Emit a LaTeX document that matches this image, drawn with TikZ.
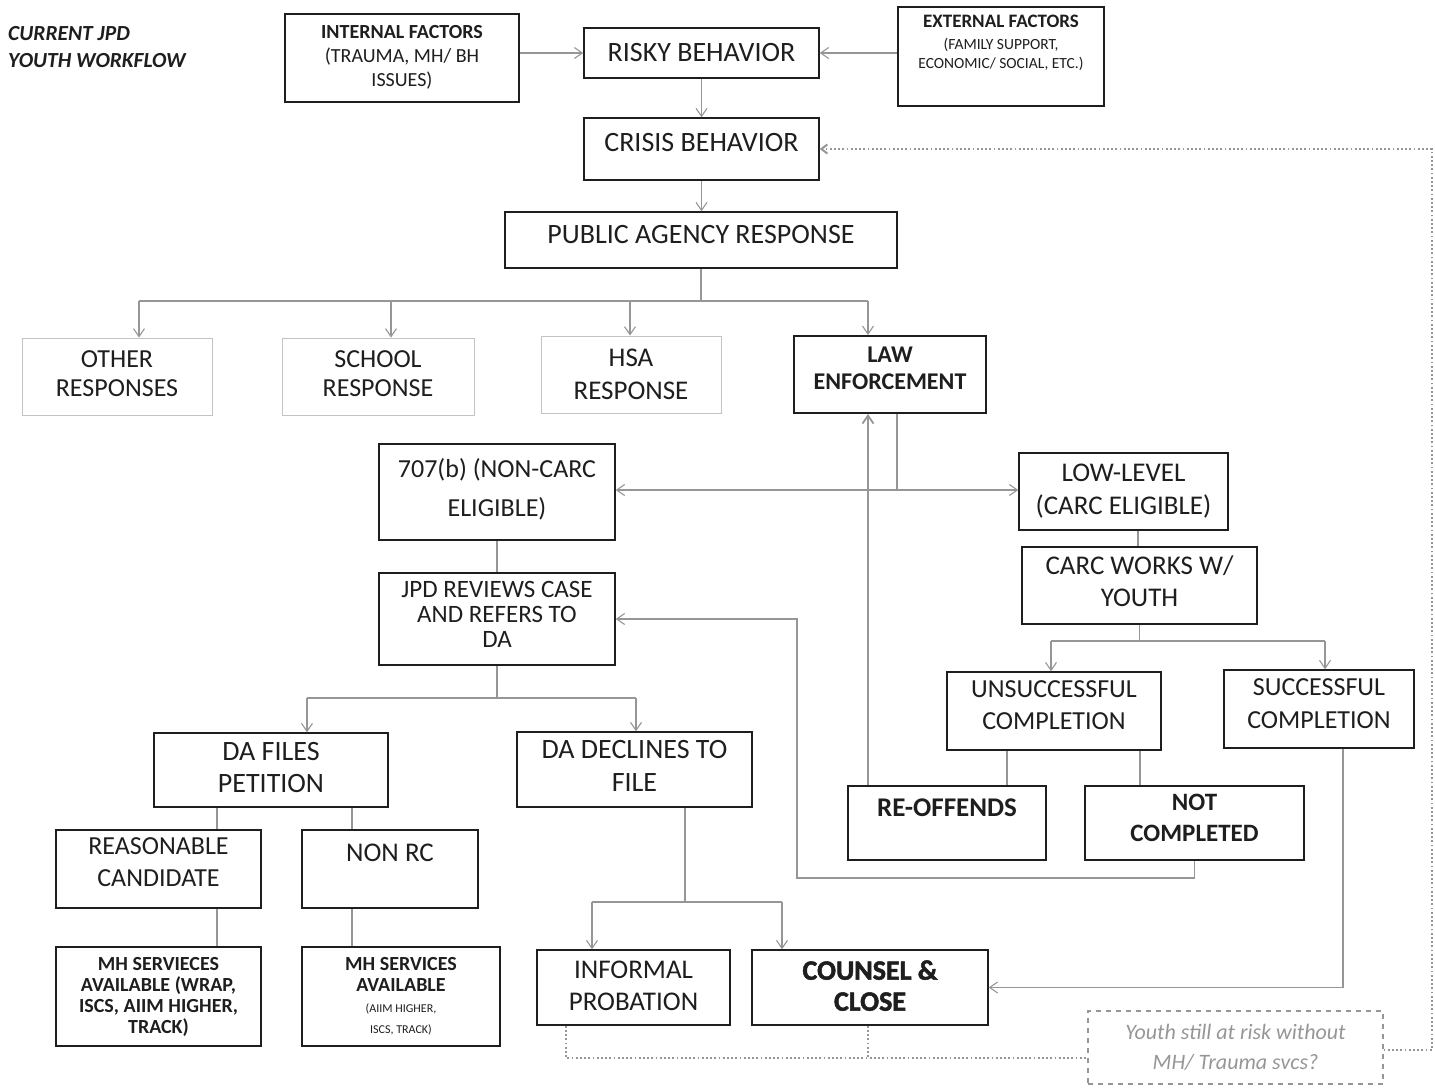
\documentclass[tikz,border=0pt]{standalone}
\usepackage{fontspec}
\setmainfont{Carlito}
\newfontfamily\heavyfont[FakeBold=1.8]{Carlito}
\usetikzlibrary{arrows.meta}
\definecolor{lg}{RGB}{150,150,150}
\definecolor{llg}{RGB}{195,195,195}
\definecolor{bd}{RGB}{30,30,30}
\newcommand{\fsz}[2]{\fontsize{#1}{#2}\selectfont}
\begin{document}
\begin{tikzpicture}[x=1pt,y=-1pt,
  box/.style={draw=bd, line width=1.4pt, rectangle, inner sep=2pt, align=center, text=bd, font=\fsz{26}{32}},
  lbox/.style={box, draw=llg, line width=0.9pt},
  conn/.style={draw=lg, line width=1.1pt},
  arr/.style={conn, -{Straight Barb[length=8pt,width=11pt]}},
  dotl/.style={draw=lg, line width=2pt, dash pattern=on 1.8pt off 2.4pt},
]
\fill[white] (0,0) rectangle (1435,1087);
\useasboundingbox (0,0) rectangle (1435,1087);

% title
\node[font=\bfseries\itshape\fsz{21.5}{27}, align=left, anchor=north west, text=bd, inner sep=0pt] (title) at (8,26) {CURRENT JPD\\YOUTH WORKFLOW};

% top row
\node[box, font=\fsz{20}{24}, minimum width=234, minimum height=88, text depth=4pt] (int) at (402,58) {{\bfseries INTERNAL FACTORS}\\(TRAUMA, MH/ BH\\ISSUES)};
\node[box, font=\fsz{28}{32}, minimum width=235, minimum height=50] (risky) at (701.5,53) {RISKY BEHAVIOR};
\node[box, font=\fsz{15.5}{19}, minimum width=206, minimum height=99, text depth=30pt] (ext) at (1001,56.5) {{\fsz{19}{22}\bfseries EXTERNAL FACTORS}\\[3pt](FAMILY SUPPORT,\\ECONOMIC/ SOCIAL, ETC.)};
\node[box, font=\fsz{28}{32}, minimum width=235, minimum height=62, text depth=14pt] (crisis) at (701.5,149) {CRISIS BEHAVIOR};
\node[box, font=\fsz{28}{32}, minimum width=392, minimum height=56, text depth=12pt] (pub) at (701,240) {PUBLIC AGENCY RESPONSE};

% responses
\node[lbox, font=\fsz{26}{29}, minimum width=190, minimum height=77, text depth=6pt] (oth) at (117,376.5) {OTHER\\RESPONSES};
\node[lbox, font=\fsz{26}{29}, minimum width=192, minimum height=77, text depth=6pt] (sch) at (378,376.5) {SCHOOL\\RESPONSE};
\node[lbox, font=\fsz{27}{33}, minimum width=180, minimum height=77] (hsa) at (631,374.5) {HSA\\RESPONSE};
\node[box, line width=2pt, font=\bfseries\fsz{24}{27}, minimum width=192, minimum height=77, text depth=12pt] (law) at (890,374.5) {LAW\\ENFORCEMENT};

% middle
\node[box, font=\fsz{26}{39}, minimum width=236, minimum height=96, text depth=10pt] (c707) at (497,492) {707(b) (NON-CARC\\ELIGIBLE)};
\node[box, font=\fsz{27}{33}, minimum width=209, minimum height=77] (low) at (1123.5,491.5) {LOW-LEVEL\\(CARC ELIGIBLE)};
\node[box, font=\fsz{27}{32}, minimum width=235, minimum height=77, text depth=8pt] (carc) at (1139.5,585.5) {CARC WORKS W/\\YOUTH};
\node[box, font=\fsz{25}{25}, minimum width=236, minimum height=92, text depth=10pt] (jpd) at (497,619) {JPD REVIEWS CASE\\AND REFERS TO\\DA};
\node[box, font=\fsz{26}{32}, minimum width=214, minimum height=78, text depth=12pt] (uns) at (1054,711) {UNSUCCESSFUL\\COMPLETION};
\node[box, font=\fsz{26}{33}, minimum width=190, minimum height=78, text depth=11pt] (suc) at (1319,709) {SUCCESSFUL\\COMPLETION};
\node[box, font=\bfseries\fsz{27}{32}, minimum width=198, minimum height=74, text depth=30pt] (reoff) at (947,823) {RE-OFFENDS};
\node[box, font=\bfseries\fsz{25}{31}, minimum width=219, minimum height=74, text depth=11pt] (notc) at (1194.5,823) {NOT\\COMPLETED};

% DA
\node[box, font=\fsz{28}{32}, minimum width=234, minimum height=74, text depth=6pt] (daf) at (271,770) {DA FILES\\PETITION};
\node[box, font=\fsz{28}{33}, minimum width=235, minimum height=75, text depth=8pt] (dad) at (634.5,769.5) {DA DECLINES TO\\FILE};
\node[box, font=\fsz{26}{32}, minimum width=205, minimum height=78, text depth=14pt] (reas) at (158.5,869) {REASONABLE\\CANDIDATE};
\node[box, font=\fsz{27}{32}, minimum width=176, minimum height=78, text depth=32pt] (nonrc) at (390,869) {NON RC};
\node[box, font=\bfseries\fsz{20}{21}, minimum width=205, minimum height=99] (mh1) at (158.5,996.5) {MH SERVIECES\\AVAILABLE (WRAP,\\ISCS, AIIM HIGHER,\\TRACK)};
\node[box, font=\bfseries\fsz{20}{21}, minimum width=198, minimum height=99] (mh2) at (401,996.5) {MH SERVICES\\AVAILABLE\\{\fsz{12}{14}\mdseries (AIIM HIGHER,}\\{\fsz{12}{14}\mdseries ISCS, TRACK)}};
\node[box, font=\fsz{27}{32}, minimum width=193, minimum height=75, text depth=4pt] (inf) at (633.5,987.5) {INFORMAL\\PROBATION};
\node[box, font=\heavyfont\bfseries\fsz{28}{31}, minimum width=236, minimum height=75, text depth=4pt] (coun) at (870,987.5) {COUNSEL \&\\CLOSE};

\node[draw=lg, line width=1.2pt, dash pattern=on 5pt off 5pt, minimum width=295, minimum height=73, align=center, font=\itshape\fsz{22}{30}, text=lg] (youth) at (1235.5,1047.5) {Youth still at risk without\\MH/ Trauma svcs?};

% connectors top
\draw[arr] (int.east |- risky.west) -- (risky.west);
\draw[arr] (ext.west |- risky.east) -- (risky.east);
\draw[arr] (risky.south) -- (crisis.north);
\draw[arr] (crisis.south) -- (crisis.south |- pub.north);

% bus
\coordinate (b1) at (139,301);
\coordinate (b2) at (391,301);
\coordinate (b3) at (630,301);
\coordinate (b4) at (868,301);
\draw[conn] (pub.south) -- (pub.south |- b1);
\draw[conn] (b1) -- (b4);
\draw[arr] (b1) -- (b1 |- oth.north);
\draw[arr] (b2) -- (b2 |- sch.north);
\draw[arr] (b3) -- (b3 |- hsa.north);
\draw[arr] (b4) -- (b4 |- law.north);

% law enforcement split
\coordinate (lj) at (897,490);
\draw[conn] (law.south -| lj) -- (lj);
\draw[arr] (lj) -- (lj -| c707.east);
\draw[arr] (lj) -- (lj -| low.west);

% re-offends back to law
\coordinate (rx) at (868,0);
\draw[arr, line width=1.8pt] (reoff.north -| rx) -- (law.south -| rx);

% CARC branch
\coordinate (cx) at (1138,0);
\draw[conn] (low.south -| cx) -- (carc.north -| cx);
\coordinate (cL) at (1051,641);
\coordinate (cR) at (1325,641);
\draw[conn] (carc.south) -- (carc.south |- cL);
\draw[conn] (cL) -- (cR);
\draw[arr] (cL) -- (cL |- uns.north);
\draw[arr] (cR) -- (cR |- suc.north);
\coordinate (u1) at (1007,0);
\coordinate (u2) at (1140,0);
\draw[conn] (uns.south -| u1) -- (reoff.north -| u1);
\draw[conn] (uns.south -| u2) -- (notc.north -| u2);

% feedback not completed -> JPD
\coordinate (fb) at (797,878);
\draw[arr] (notc.south) |- (fb) |- (jpd.east);

% 707 -> JPD
\draw[conn] (c707.south) -- (jpd.north);

% JPD split
\coordinate (jL) at (307,698);
\coordinate (jR) at (636,698);
\draw[conn] (jpd.south) -- (jpd.south |- jL);
\draw[conn] (jL) -- (jR);
\draw[arr] (jL) -- (jL |- daf.north);
\draw[arr] (jR) -- (jR |- dad.north);

% DA files children
\coordinate (f1) at (217,0);
\coordinate (f2) at (352,0);
\draw[conn] (daf.south -| f1) -- (reas.north -| f1);
\draw[conn] (daf.south -| f2) -- (nonrc.north -| f2);
\draw[conn] (reas.south -| f1) -- (mh1.north -| f1);
\draw[conn] (nonrc.south -| f2) -- (mh2.north -| f2);

% DA declines split
\coordinate (dx) at (685,0);
\coordinate (dL) at (592,902);
\coordinate (dR) at (782,902);
\draw[conn] (dad.south -| dx) -- (dL -| dx);
\draw[conn] (dL) -- (dR);
\draw[arr] (dL) -- (dL |- inf.north);
\draw[arr] (dR) -- (dR |- coun.north);

% successful -> counsel
\coordinate (sx) at (1343,0);
\draw[arr] (suc.south -| sx) |- (coun.east);

% dotted loop
\coordinate (ix) at (566,0);
\coordinate (kx) at (868,0);
\coordinate (dy) at (0,1058);
\coordinate (ry) at (0,1050);
\coordinate (rxx) at (1432,0);
\draw[dotl] (inf.south -| ix) |- (youth.west |- dy);
\draw[dotl] (coun.south -| kx) -- (kx |- dy);
\draw[dotl, -{Straight Barb[length=6pt,width=9pt]}] (youth.east |- ry) -| (rxx |- crisis.east) -- (crisis.east);
\end{tikzpicture}
\end{document}
